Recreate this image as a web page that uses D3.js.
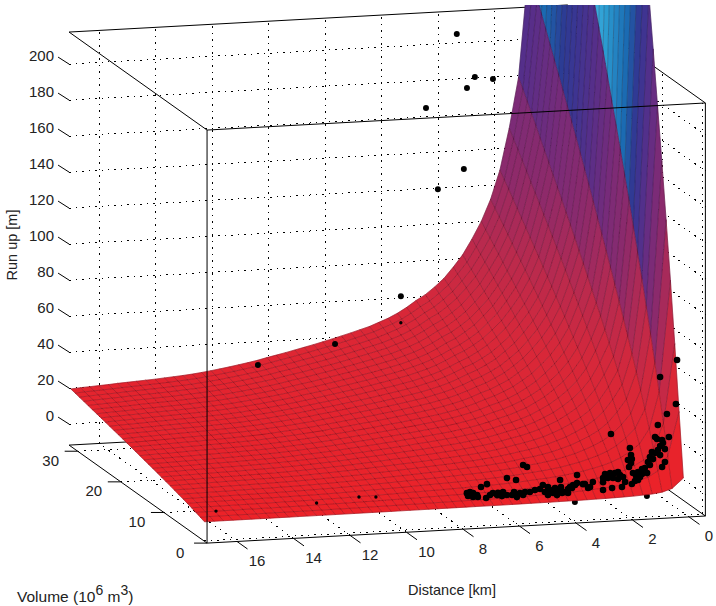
<!DOCTYPE html>
<html><head><meta charset="utf-8">
<style>html,body{margin:0;padding:0;background:#fff}svg{display:block}text{font-family:"Liberation Sans",Arial,sans-serif;fill:#222}</style>
<script src="https://cdn.jsdelivr.net/npm/d3@7/dist/d3.min.js"></script>
</head><body><svg id="c" width="716" height="606"></svg>
<script>
// ---------- axis ticks ----------
const distanceTicks=[0,2,4,6,8,10,12,14,16];
const volumeTicks=[0,10,20,30];
const runupTicks=[0,20,40,60,80,100,120,140,160,180,200];
const distanceRange=[-0.58,17.06];
const volumeRange=[0,32];
const runupRange=[-11.67,217.8];
const wallVolumes=[0.7,10,20,30];
// ---------- surface mesh ----------
const meshDistance=[0.2,0.6,0.95,1.3,1.63,1.96,2.29,2.62,2.95,3.28,3.61,3.94,4.27,4.6,4.93,5.26,5.59,5.92,6.25,6.58,6.91,7.24,7.57,7.9,8.23,8.56,8.89,9.22,9.55,9.88,10.21,10.54,10.87,11.2,11.53,11.86,12.19,12.52,12.85,13.18,13.51,13.84,14.17,14.5,14.83,15.16,15.49,15.82,16.15,16.48,16.81,17.15];
const backEdgeRunup=[839,387,241,181,153,130,114,102,92.5,84,77.5,71.5,67,63,60,56.5,53.5,51,49,47,45.5,44,42.6,41.2,39.9,38.6,37.4,36.2,35,33.9,32.8,31.6,30.6,29.7,28.8,28,27.2,26.5,25.9,25.4,25,24.6,24.2,23.9,23.6,23.3,23,22.6,22.3,22,21.7,21.3];
const meshVolume=[0,1,2,3,4,5,6,7,8,9,10,11,12,13,14,15,16,17,18,19,20,21,22,23,24,25,26,27,28,29,30,31];
const volumeShare=[0.012,0.054,0.097,0.137,0.175,0.212,0.247,0.282,0.316,0.349,0.382,0.414,0.446,0.477,0.508,0.539,0.570,0.600,0.630,0.660,0.689,0.718,0.747,0.775,0.804,0.832,0.860,0.889,0.917,0.945,0.972,1];
// ---------- colour map ----------
const colorHeights=[0,60,100,140,180,225,270,300,340,450,540,640];
const colorValues=["#ec2228","#d6283a","#b62a50","#8e2a6a","#7a2b78","#5a2e88","#3c3592","#2c3c94","#1a68b0","#2a9ad0","#45b8e2","#6fd0ee"];
// ---------- observations ----------
const upperDistance=[10.68,7.95,5.62,4.31,3.39,4.73,3.0,3.28,2.36,3.64];
const upperVolume=[30,30,30,30,30,30,30,30,30,30];
const upperRunup=[30.8,40.1,64.7,123,133.4,168.5,184.2,178.4,182.6,208.7];
const clusterDistance=[0.27,0.87,0.31,0.63,0.95,2.61,1.05,0.98,0.80,0.77,0.56,0.70,1.94,1.90,2.01,1.87,1.97,1.90,0.95,1.05,0.87,1.23,1.30,1.12,1.23,0.70,0.80,1.51,1.65,1.83,1.33,1.58,1.76,1.87,1.65,2.64,2.47,2.29,2.18,2.72,2.54,2.36,2.89,2.89,2.57,2.22,2.89,3.81,3.25,3.53,3.35,3.42,3.88,3.99,5.72,5.58,6.29,5.97,7.0,7.21,7.71,7.6,7.49,7.35,7.67,7.32,7.03,6.79,6.61,6.43,6.29,6.11,6.64,5.94,5.83,5.65,5.72,5.30,5.48,5.02,4.84,4.95,4.84,4.66,4.59,4.41,4.38,4.24,4.34,4.06,3.95,4.13,3.81,3.60,6.89,6.47,6.04,5.12,4.77,4.48,4.52,4.13,7.49,2.36,2.82,2.11,1.41,1.16,0.87,1.72,1.51];
const clusterVolume=1;
const clusterRunup=[74.0,65.1,49.6,44.3,38.5,34.9,31.9,30.7,30,28.3,31.5,24.9,26.6,22.6,19.9,20.4,16,18.2,24.6,23,21.7,20.9,18.2,19.7,16.5,17.7,15,14.5,12.9,12.6,12.1,10.1,8.1,6.5,8.5,13.3,13.1,11.8,10.7,10.6,10.4,9.7,10.7,8.4,4.9,5.1,4,13.2,8.8,7.9,6.1,5.6,7.7,6.1,20.3,19.1,13.6,12.2,10.8,9.4,6.4,6.9,6.3,5.1,4.8,3.9,3.1,5.7,5.6,5.9,4.2,4,4.4,2.7,4.9,5.3,3.7,6.1,5.1,8.6,7.3,4.7,2.9,3.9,6.6,10.9,6.9,4.1,3.6,6.7,7.7,5.6,8.7,7.9,4.7,3.7,5.6,6.5,5.6,4.8,2.6,3.4,4.1,13.6,12.8,7.8,15,23.7,26.7,10.8,11.7];
const behindDistance=[1.49,4.04];
const behindVolume=[0,0];
const behindRunup=[1.2,0.06];
const faintDistance=[7.91,13.03,16.59,11.53,10.93];
const faintVolume=[15,1,1,1,1];
const faintRunup=[77.4,5.5,4.0,7.5,7.0];

// ---------- projection built from linear scales ----------
const dX=d3.scaleLinear().domain([0,17]).range([689,208.75]);
const dY=d3.scaleLinear().domain([0,17]).range([495.9,522]);
const vX=d3.scaleLinear().domain([0,32]).range([0,-138]);
const vY=d3.scaleLinear().domain([0,32]).range([0,-98]);
const zY=d3.scaleLinear().domain([0,200]).range([0,-360]);
const P=(d,v,z)=>[dX(d)+vX(v),dY(d)+vY(v)+zY(z)];
const color=d3.scaleLinear().domain(colorHeights).range(colorValues).clamp(true);
const [dA,dB]=distanceRange,[vA,vB]=volumeRange,[zA,zB]=runupRange;

const svg=d3.select("#c");
const path=d3.line();
const seg=(g,a,b,cls)=>g.append("path").attr("d",path([a,b])).attr("class",cls);
svg.append("defs").append("clipPath").attr("id","top").append("rect").attr("x",0).attr("y",5).attr("width",716).attr("height",601);
svg.append("style").text(`.grid{stroke:#000;stroke-width:1;stroke-dasharray:1.5 5;fill:none}.box{stroke:#000;stroke-width:1;fill:none}.tick{stroke:#000;stroke-width:1;fill:none}.lbl{font-size:15px}`);

// walls and floor grid
const grid=svg.append("g").attr("shape-rendering","crispEdges");
distanceTicks.forEach(d=>{seg(grid,P(d,vB,zA),P(d,vB,zB),"grid");seg(grid,P(d,vA,zA),P(d,vB,zA),"grid");});
runupTicks.forEach(z=>{seg(grid,P(dB,vB,z),P(dA,vB,z),"grid");seg(grid,P(dA,vB,z),P(dA,vA,z),"grid");});
wallVolumes.forEach(v=>{seg(grid,P(dB,v,zA),P(dA,v,zA),"grid");seg(grid,P(dA,v,zA),P(dA,v,zB),"grid");});

// box edges behind the surface
const back=svg.append("g");
seg(back,P(dB,vB,zB),P(dA,vB,zB),"box");
seg(back,P(dA,vB,zB),P(dA,vA,zB),"box");
seg(back,P(dB,vB,zA),P(dA,vB,zA),"box");
seg(back,P(dA,vB,zA),P(dA,vA,zA),"box");
seg(back,P(dB,vB,zB),P(dB,vA,zB),"box");

const marker=d3.symbol().type(d3.symbolCircle);
const dots=(g,ds,vs,zs,size)=>g.selectAll(null).data(ds).join("path")
  .attr("d",marker.size(size)()).attr("fill","#000")
  .attr("transform",(d,i)=>`translate(${P(d,Array.isArray(vs)?vs[i]:vs,zs[i])})`);
dots(svg.append("g"),behindDistance,behindVolume,behindRunup,28);

// surface facets, then mesh lines
const cells=[];
meshDistance.slice(0,-1).forEach((d,i)=>meshVolume.slice(0,-1).forEach((v,j)=>cells.push({i,j})));
const Z=(i,j)=>backEdgeRunup[i]*volumeShare[j];
const corner=(i,j)=>P(meshDistance[i],meshVolume[j],Z(i,j));
const surf=svg.append("g").attr("clip-path","url(#top)");
const closed=d3.line().curve(d3.curveLinearClosed);
surf.append("g").selectAll("path").data(cells).join("path")
  .attr("d",c=>closed([corner(c.i,c.j),corner(c.i+1,c.j),corner(c.i+1,c.j+1),corner(c.i,c.j+1)]))
  .attr("fill",c=>color(Z(c.i,c.j)))
  .attr("stroke",c=>color(Z(c.i,c.j)))
  .attr("stroke-width",0.6);
const mesh=surf.append("g").attr("fill","none").attr("stroke","#200010").attr("stroke-opacity",0.38).attr("stroke-width",0.65);
meshVolume.forEach((v,j)=>mesh.append("path").attr("d",path(meshDistance.map((d,i)=>corner(i,j)))));
meshDistance.forEach((d,i)=>mesh.append("path").attr("d",path(meshVolume.map((v,j)=>corner(i,j)))));

// faint and visible observations
dots(svg.append("g"),faintDistance,faintVolume,faintRunup,9);
dots(svg.append("g"),clusterDistance,clusterVolume,clusterRunup,34);
dots(svg.append("g"),upperDistance,upperVolume,upperRunup,28);

// box edges in front
const front=svg.append("g");
seg(front,P(dB,vA,zA),P(dB,vA,zB),"box");
seg(front,P(dB,vA,zB),P(dA,vA,zB),"box");
seg(front,P(dA,vA,zA),P(dA,vA,zB),"box");
seg(front,P(dB,vA,zA),P(dA,vA,zA),"box");
seg(front,P(dB,vA,zA),P(dB,vB,zA),"box");

// ticks and labels
const axes=svg.append("g");
distanceTicks.forEach(d=>{const p=P(d,vA,zA);
  axes.append("path").attr("class","tick").attr("d",path([p,[p[0]+10.5,p[1]+7.5]]));
  axes.append("text").attr("class","lbl").attr("x",p[0]+20).attr("y",p[1]+24.5).attr("text-anchor","middle").text(d);});
volumeTicks.forEach(v=>{const p=P(dB,v,zA);
  axes.append("path").attr("class","tick").attr("d",path([p,[p[0]-13,p[1]]]));
  axes.append("text").attr("class","lbl").attr("x",p[0]-27).attr("y",p[1]+14.5).attr("text-anchor","middle").text(v);});
runupTicks.forEach(z=>{const p=P(dB,vB,z);
  axes.append("path").attr("class","tick").attr("d",path([p,[p[0]-11,p[1]-7]]));
  axes.append("text").attr("class","lbl").attr("x",54).attr("y",p[1]-3).attr("text-anchor","end").text(z);});

svg.append("text").attr("transform","translate(17,245) rotate(-90)").attr("text-anchor","middle").style("font-size","14.5px").text("Run up [m]");
svg.append("text").attr("x",452).attr("y",595).attr("text-anchor","middle").style("font-size","14.5px").text("Distance [km]");
const vol=svg.append("text").attr("x",17).attr("y",602).style("font-size","15.5px");
vol.append("tspan").text("Volume (10");
vol.append("tspan").attr("dy",-7).style("font-size","14px").text("6");
vol.append("tspan").attr("dy",7).text(" m");
vol.append("tspan").attr("dy",-7).style("font-size","14px").text("3");
vol.append("tspan").attr("dy",7).text(")");
</script></body></html>
